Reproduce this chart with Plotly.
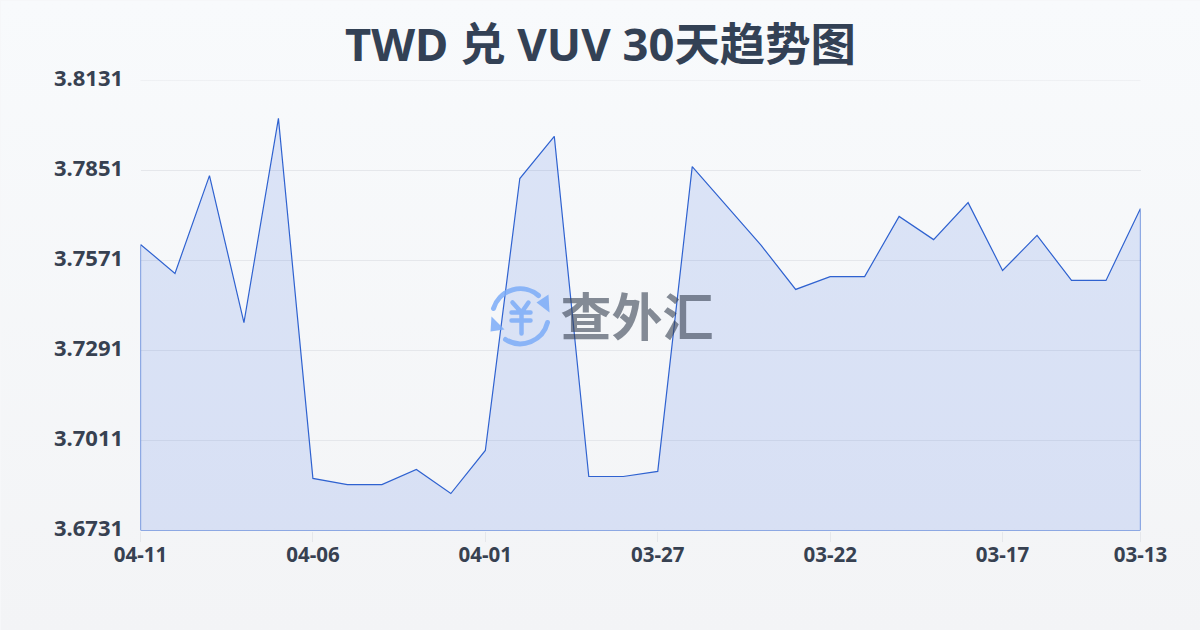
import base64
import plotly.graph_objects as go

dates = ["04-11", "04-06", "04-01", "03-27", "03-22", "03-17", "03-13"]
date_positions = [0, 5, 10, 15, 20, 25, 29]
rates = [3.7621, 3.7531, 3.7835, 3.7378, 3.8013, 3.6893, 3.6874, 3.6874, 3.6921, 3.6846,
         3.6980, 3.7826, 3.7957, 3.6899, 3.6899, 3.6915, 3.7863, 3.7742, 3.7618, 3.7481,
         3.7521, 3.7521, 3.7708, 3.7636, 3.7751, 3.7540, 3.7649, 3.7509, 3.7509, 3.7733]
y_ticks = [3.6731, 3.7011, 3.7291, 3.7571, 3.7851, 3.8131]
title = "TWD 兑 VUV 30天趋势图"
watermark = "查外汇"
FONT = "Noto Sans, Noto Sans CJK SC, sans-serif"
TEXT = "#374151"
GRID = "#e5e7eb"


def uri(svg):
    return "data:image/svg+xml;base64," + base64.b64encode(svg.encode()).decode()


bg_svg = ('<svg xmlns="http://www.w3.org/2000/svg" width="1200" height="630" preserveAspectRatio="none">'
          '<defs><linearGradient id="g" x1="0" y1="0" x2="0" y2="1">'
          '<stop offset="0" stop-color="#f8fafc"/><stop offset="1" stop-color="#f3f4f6"/>'
          '</linearGradient></defs><rect width="1200" height="630" fill="url(#g)"/></svg>')

logo_svg = ('<svg xmlns="http://www.w3.org/2000/svg" width="64" height="64" viewBox="0 0 64 64">'
            '<g fill="none" stroke="#7dadf8" stroke-linecap="round" stroke-linejoin="round">'
            '<path stroke-width="5" d="M5 25 A28 28 0 0 1 50 12"/>'
            '<path stroke-width="5" d="M59 39 A28 28 0 0 1 17 56"/>'
            '<path stroke-width="4.5" d="M24 19 L33 29 L40 19 M23 29 L42 29 M23 37 L42 37 M33 29 L33 50"/>'
            '</g>'
            '<g fill="#7dadf8">'
            '<path d="M60 11 L61 29 L48 19 Z"/>'
            '<path d="M3 33 L2 48 L16 46 Z"/>'
            '</g></svg>')

n = len(rates)
xs = list(range(n)) + [n - 1, 0, 0]
ys = rates + [y_ticks[0], y_ticks[0], rates[0]]

fig = go.Figure(go.Scatter(
    x=xs, y=ys, mode="lines", fill="toself",
    line=dict(color="#2f62d0", width=1.2),
    fillcolor="rgba(47,98,225,0.14)",
    hoverinfo="skip", showlegend=False, cliponaxis=False,
))

fig.update_layout(
    width=1200, height=630,
    margin=dict(l=140, r=60, t=80, b=100),
    paper_bgcolor="#f6f7f9", plot_bgcolor="rgba(0,0,0,0)",
    font=dict(family=FONT, color=TEXT),
    title=dict(text=title, x=0.5, xanchor="center", y=0.929, yanchor="middle",
               font=dict(size=45.4, family=FONT, color="#334155", weight="bold")),
    xaxis=dict(range=[0, n - 1], tickmode="array", tickvals=date_positions, ticktext=dates,
               showgrid=False, zeroline=False, showline=False,
               ticks="outside", ticklen=10, tickcolor=GRID, tickwidth=1,
               ticklabelstandoff=-4,
               tickfont=dict(size=20.5, family=FONT, color=TEXT, weight="bold")),
    yaxis=dict(range=[y_ticks[0], y_ticks[-1]], tickmode="array", tickvals=y_ticks,
               tickformat=".4f", showgrid=True, gridcolor=GRID, gridwidth=1,
               zeroline=False, showline=False,
               ticks="outside", ticklen=12, tickcolor="rgba(0,0,0,0)",
               ticklabelshift=-2,
               tickfont=dict(size=22, family=FONT, color=TEXT, weight="bold")),
    shapes=[dict(type="line", xref="paper", yref="y", x0=0, x1=1, y0=y_ticks[-1], y1=y_ticks[-1],
                 line=dict(color=GRID, width=1), layer="below")],
    images=[
        dict(source=uri(bg_svg), xref="paper", yref="paper", x=-0.14, y=80 / 450 + 1,
             sizex=1.2, sizey=1.4, xanchor="left", yanchor="top", sizing="stretch", layer="below"),
        dict(source=uri(logo_svg), xref="paper", yref="paper", x=0.38, y=215 / 450,
             sizex=0.064, sizey=64 / 450, xanchor="center", yanchor="middle", sizing="stretch",
             layer="above", opacity=0.85),
    ],
    annotations=[
        dict(text=f"<b>{watermark}</b>", xref="paper", yref="paper", x=0.496, y=217 / 450,
             xanchor="center", yanchor="middle", showarrow=False,
             font=dict(size=51, family="Noto Sans CJK SC", color="rgba(55,65,81,0.6)")),
    ],
)

fig.write_html("out.html", config={"displayModeBar": False},
               post_script=("document.body.style.margin='0';"
                            "document.body.style.background='#f6f7f9';"
                            "document.querySelector('.plotly-graph-div').style.transform='translate(0.5px,0.5px)';"))
